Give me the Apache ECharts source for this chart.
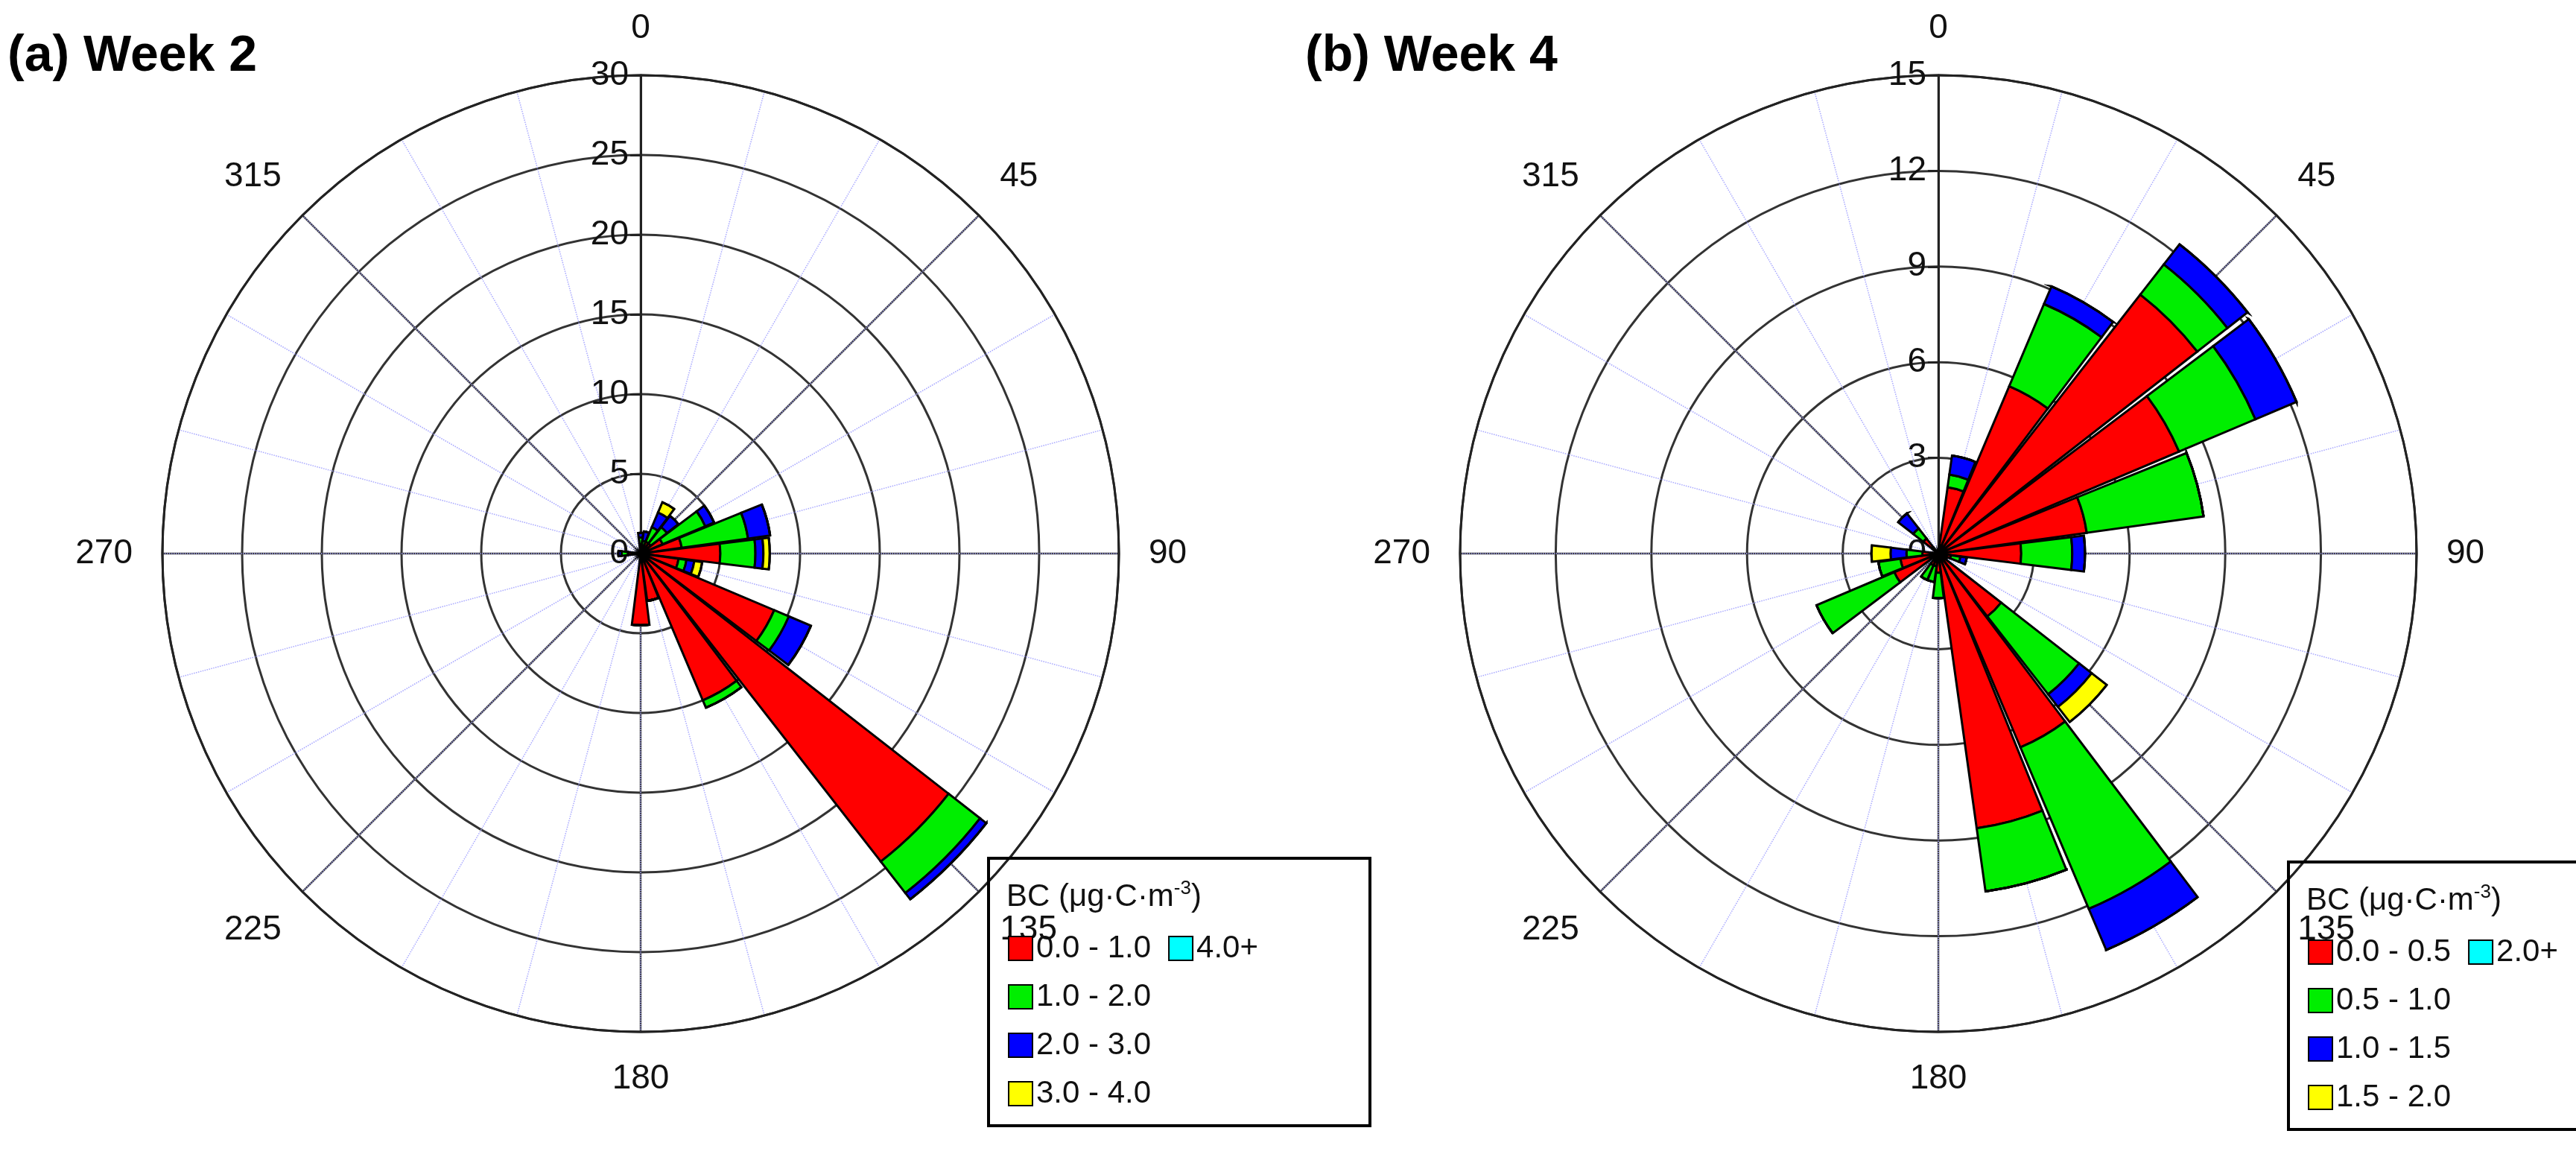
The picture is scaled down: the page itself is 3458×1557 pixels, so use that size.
<!DOCTYPE html>
<html>
<head>
<meta charset="utf-8">
<script src="https://cdn.jsdelivr.net/npm/echarts@6/dist/echarts.min.js"></script>
<style>
  html, body { margin: 0; padding: 0; background: #fff; }
  #chart { width: 3458px; height: 1557px; }
</style>
</head>
<body>
<div id="chart"></div>
<script>
// wind direction sectors, 15 degrees each, clockwise from north
var directions = [];
for (var d = 0; d < 360; d += 15) directions.push(String(d));

// Week 2 frequencies (%) by BC bin
var w2Names = ['0.0 - 1.0', '1.0 - 2.0', '2.0 - 3.0', '3.0 - 4.0', '4.0+'];
var w2Red    = [0.6, 0.5, 0.8, 0.8, 1.5, 2.6, 5.0, 2.4, 9.1, 24.5, 10.0, 3.0, 4.5, 0, 0, 0, 0, 0, 0.8, 0, 0, 0, 0, 0];
var w2Green  = [0.4, 0.3, 1.0, 1.3, 2.9, 4.2, 2.2, 0.5, 1.0, 2.5, 0.5, 0, 0, 0, 0, 0, 0, 0, 0.4, 0, 0, 0, 0, 0];
var w2Blue   = [0.3, 0.6, 1.0, 0.9, 0.6, 1.4, 0.5, 0.5, 1.5, 0.5, 0, 0, 0, 0, 0, 0, 0, 0, 0.2, 0, 0, 0, 0, 0];
var w2Yellow = [0, 0, 0.7, 0, 0, 0, 0.4, 0.5, 0, 0, 0, 0, 0, 0, 0, 0, 0, 0, 0, 0, 0, 0, 0, 0];
var w2Cyan   = [0, 0, 0, 0, 0, 0, 0, 0, 0, 0, 0, 0, 0, 0, 0, 0, 0, 0, 0, 0, 0, 0, 0, 0];

// Week 4 frequencies (%) by BC bin
var w4Names = ['0.0 - 0.5', '0.5 - 1.0', '1.0 - 1.5', '1.5 - 2.0', '2.0+'];
var w4Red    = [0, 2.1, 5.7, 10.3, 8.2, 4.7, 2.6, 0.4, 0.3, 2.5, 6.6, 8.7, 0.6, 0.4, 0.4, 0, 1.5, 1.2, 0.5, 0, 0, 0.6, 0, 0];
var w4Green  = [0, 0.4, 2.8, 1.2, 2.6, 3.7, 1.6, 0.3, 0, 3.1, 5.5, 2.0, 0.8, 0.5, 0.5, 0, 2.65, 0.7, 0.5, 0, 0, 0.4, 0, 0];
var w4Blue   = [0, 0.6, 0.6, 0.8, 1.4, 0, 0.4, 0.2, 0, 0.5, 1.4, 0, 0, 0, 0, 0, 0, 0, 0.5, 0, 0, 0.6, 0, 0];
var w4Yellow = [0, 0, 0, 0, 0, 0, 0, 0, 0, 0.6, 0, 0, 0, 0, 0, 0, 0, 0, 0.6, 0, 0, 0, 0, 0];
var w4Cyan   = [0, 0, 0, 0, 0, 0, 0, 0, 0, 0, 0, 0, 0, 0, 0, 0, 0, 0, 0, 0, 0, 0, 0, 0];

var binColors = ['#ff0000', '#00ee00', '#0000ff', '#ffff00', '#00ffff'];
var FONT = 'Liberation Sans, Arial, sans-serif';
var R = 642;

var polar = [], angleAxis = [], radiusAxis = [], series = [], legend = [], graphic = [];

function addRose(cx, cy, rMax, rStep, names, stacks, legendPos, title, titleX) {
    var base = polar.length;
    // grid polar: solid spokes every 45 deg, rings, labels
    polar.push({ center: [cx, cy], radius: R });
    angleAxis.push({
        polarIndex: base, type: 'value', min: 0, max: 360, interval: 45,
        startAngle: 90, clockwise: true, z: 0,
        axisLine: { lineStyle: { color: '#222', width: 3 } },
        axisTick: { show: false },
        splitLine: { lineStyle: { color: '#333', width: 2.5 } },
        axisLabel: {
            margin: 40, fontSize: 46, fontFamily: FONT, color: '#111',
            formatter: function (v) { return v === 360 ? '' : v; }
        }
    });
    radiusAxis.push({
        polarIndex: base, type: 'value', min: 0, max: rMax, interval: rStep, z: 0,
        axisLine: { show: true, lineStyle: { color: '#222', width: 3 } },
        axisTick: { show: true, length: 14, lineStyle: { color: '#222', width: 3 } },
        splitLine: { lineStyle: { color: '#333', width: 3 } },
        axisLabel: { fontSize: 46, fontFamily: FONT, color: '#111', margin: 16 }
    });
    // dotted minor spokes every 15 deg
    polar.push({ center: [cx, cy], radius: R });
    angleAxis.push({
        polarIndex: base + 1, type: 'value', min: 0, max: 360, interval: 15,
        startAngle: 90, clockwise: true, z: 0,
        axisLine: { show: false }, axisTick: { show: false }, axisLabel: { show: false },
        splitLine: { lineStyle: { color: '#a8a8ff', width: 1.5, type: 'dotted' } }
    });
    radiusAxis.push({
        polarIndex: base + 1, type: 'value', min: 0, max: rMax, show: false,
        splitLine: { show: false }
    });
    // bars polar
    polar.push({ center: [cx, cy], radius: R });
    angleAxis.push({
        polarIndex: base + 2, type: 'category', data: directions,
        startAngle: 97.5, clockwise: true, show: false,
        splitLine: { show: false }
    });
    radiusAxis.push({
        polarIndex: base + 2, type: 'value', min: 0, max: rMax, show: false,
        splitLine: { show: false }
    });
    var stackId = 'st' + base;
    names.forEach(function (n, i) {
        series.push({
            name: n, type: 'bar', coordinateSystem: 'polar', polarIndex: base + 2,
            stack: stackId, data: stacks[i], barCategoryGap: '6%', z: 3,
            itemStyle: { color: binColors[i], borderColor: '#000', borderWidth: 3 }
        });
    });
    legend.push({
        data: names, orient: 'vertical', left: legendPos[0], top: legendPos[1],
        padding: [100, 150, 22, 26], itemGap: 23, itemWidth: 32, itemHeight: 32,
        borderColor: '#000', borderWidth: 4, icon: 'rect', selectedMode: false,
        textStyle: { fontSize: 42, fontFamily: FONT, color: '#111' }
    });
    graphic.push({
        type: 'text', left: legendPos[0] + 24, top: legendPos[1] + 28, z: 10,
        style: {
            text: 'BC (\u03bcg\u00b7C\u00b7m{sup|-3})',
            font: '42px ' + FONT, fill: '#111',
            rich: { sup: { fontSize: 26, verticalAlign: 'top', padding: [0, 0, 22, 0] } }
        }
    });
    graphic.push({
        type: 'text', left: titleX, top: 42, z: 10,
        style: { text: title, font: 'bold 68px ' + FONT, fill: '#000' }
    });
}

addRose(860, 743, 30, 5, w2Names, [w2Red, w2Green, w2Blue, w2Yellow, w2Cyan], [1327, 1152], '(a) Week 2', 10);
addRose(2602, 743, 15, 3, w4Names, [w4Red, w4Green, w4Blue, w4Yellow, w4Cyan], [3072, 1157], '(b) Week 4', 1752);

var chart = echarts.init(document.getElementById('chart'));
chart.setOption({
    backgroundColor: '#fff',
    animation: false,
    polar: polar,
    angleAxis: angleAxis,
    radiusAxis: radiusAxis,
    legend: legend,
    graphic: graphic,
    series: series
});
</script>
</body>
</html>
